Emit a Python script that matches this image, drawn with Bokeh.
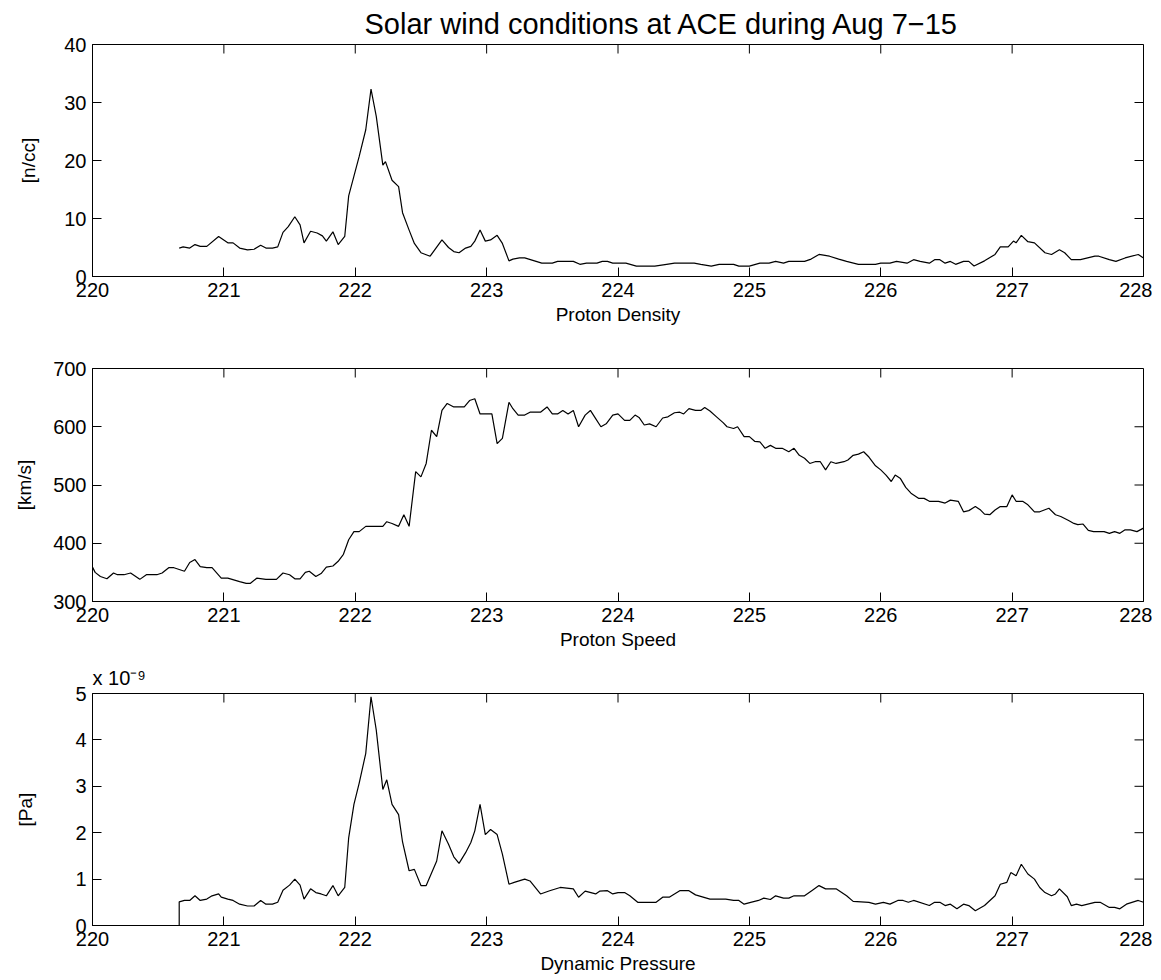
import math
from bokeh.plotting import figure
from bokeh.layouts import column
from bokeh.models import Range1d, FixedTicker
from bokeh.embed import file_html
from bokeh.resources import INLINE

FONT = "Liberation Sans"
TICK_SIZE = "20px"
LABEL_SIZE = "19px"
TICK_LEN = 9

title_text = "Solar wind conditions at ACE during Aug 7\u221215"
pressure_scale_text = "x 10\u207b\u2079"

x_ticks = [220, 221, 222, 223, 224, 225, 226, 227, 228]
density_ticks = [0, 10, 20, 30, 40]
speed_ticks = [300, 400, 500, 600, 700]
pressure_ticks = [0, 1, 2, 3, 4, 5]

# Proton density [n/cc] vs day of year
density_day = [220.66, 220.69, 220.74, 220.78, 220.82, 220.87, 220.96, 221.03, 221.07, 221.12,
               221.18, 221.23, 221.28, 221.32, 221.37, 221.41, 221.45, 221.49, 221.54, 221.58,
               221.61, 221.66, 221.71, 221.75, 221.78, 221.83, 221.87, 221.92, 221.95, 221.99,
               222.03, 222.08, 222.12, 222.16, 222.21, 222.23, 222.28, 222.33, 222.36, 222.41,
               222.45, 222.50, 222.57, 222.66, 222.71, 222.75, 222.79, 222.84, 222.88, 222.91,
               222.95, 222.99, 223.03, 223.08, 223.12, 223.17, 223.20, 223.25, 223.29, 223.42,
               223.50, 223.54, 223.66, 223.71, 223.76, 223.84, 223.88, 223.92, 223.96, 224.00,
               224.06, 224.14, 224.28, 224.37, 224.43, 224.58, 224.63, 224.71, 224.77, 224.88,
               224.92, 225.00, 225.08, 225.15, 225.20, 225.26, 225.30, 225.42, 225.47, 225.53,
               225.61, 225.68, 225.74, 225.83, 225.96, 226.00, 226.07, 226.12, 226.20, 226.25,
               226.30, 226.37, 226.41, 226.45, 226.49, 226.53, 226.57, 226.63, 226.67, 226.71,
               226.79, 226.87, 226.91, 226.97, 227.01, 227.03, 227.07, 227.12, 227.17, 227.25,
               227.30, 227.36, 227.40, 227.45, 227.52, 227.63, 227.66, 227.74, 227.79, 227.86,
               227.96, 228.00]
density_ncc = [4.9, 5.1, 4.9, 5.5, 5.2, 5.2, 6.9, 5.8, 5.8, 4.9,
               4.6, 4.7, 5.4, 4.9, 4.9, 5.1, 7.6, 8.6, 10.3, 8.9,
               5.8, 7.8, 7.5, 7.0, 6.1, 7.7, 5.5, 6.9, 13.9, 17.3,
               20.7, 25.3, 32.3, 27.6, 19.2, 19.8, 16.6, 15.5, 11.0, 8.0,
               5.7, 4.1, 3.5, 6.3, 5.0, 4.3, 4.1, 4.9, 5.2, 6.1,
               8.0, 6.1, 6.3, 7.1, 5.7, 2.7, 3.0, 3.2, 3.2, 2.3,
               2.3, 2.6, 2.6, 2.1, 2.3, 2.3, 2.6, 2.6, 2.3, 2.3,
               2.3, 1.8, 1.8, 2.1, 2.3, 2.3, 2.1, 1.8, 2.1, 2.1,
               1.8, 1.8, 2.3, 2.3, 2.6, 2.3, 2.6, 2.6, 3.0, 3.8,
               3.5, 3.0, 2.6, 2.1, 2.1, 2.3, 2.3, 2.6, 2.3, 2.9,
               2.6, 2.3, 2.9, 2.9, 2.3, 2.6, 2.1, 2.6, 2.6, 1.8,
               2.7, 3.8, 5.1, 5.1, 6.1, 5.8, 7.1, 6.0, 5.8, 4.1,
               3.8, 4.6, 4.1, 2.9, 2.9, 3.5, 3.5, 2.9, 2.6, 3.2,
               3.8, 3.2]

# Proton speed [km/s]
speed_day = [220.00, 220.02, 220.06, 220.11, 220.16, 220.19, 220.24, 220.29, 220.36, 220.41,
             220.49, 220.53, 220.58, 220.62, 220.70, 220.74, 220.78, 220.82, 220.87, 220.91,
             220.98, 221.03, 221.12, 221.17, 221.20, 221.25, 221.32, 221.40, 221.45, 221.50,
             221.54, 221.58, 221.62, 221.65, 221.70, 221.74, 221.78, 221.83, 221.87, 221.91,
             221.95, 221.99, 222.03, 222.08, 222.12, 222.21, 222.24, 222.28, 222.33, 222.37,
             222.41, 222.46, 222.50, 222.54, 222.58, 222.62, 222.66, 222.70, 222.75, 222.83,
             222.87, 222.91, 222.95, 223.04, 223.08, 223.12, 223.17, 223.20, 223.24, 223.29,
             223.33, 223.41, 223.46, 223.50, 223.54, 223.58, 223.62, 223.66, 223.70, 223.75,
             223.79, 223.83, 223.87, 223.91, 223.96, 224.00, 224.05, 224.09, 224.13, 224.16,
             224.20, 224.24, 224.29, 224.34, 224.38, 224.43, 224.47, 224.50, 224.54, 224.59,
             224.63, 224.66, 224.70, 224.75, 224.80, 224.83, 224.88, 224.91, 224.96, 225.00,
             225.04, 225.08, 225.12, 225.16, 225.20, 225.25, 225.30, 225.34, 225.38, 225.42,
             225.46, 225.50, 225.54, 225.58, 225.62, 225.66, 225.72, 225.75, 225.79, 225.83,
             225.87, 225.91, 225.96, 226.00, 226.04, 226.08, 226.11, 226.15, 226.19, 226.23,
             226.29, 226.33, 226.37, 226.44, 226.49, 226.53, 226.59, 226.63, 226.67, 226.72,
             226.76, 226.79, 226.83, 226.87, 226.91, 226.96, 227.00, 227.03, 227.08, 227.12,
             227.17, 227.21, 227.28, 227.33, 227.37, 227.43, 227.47, 227.50, 227.54, 227.58,
             227.62, 227.70, 227.74, 227.78, 227.82, 227.86, 227.90, 227.95, 228.00]
speed_kms = [359, 350, 343, 339, 349, 346, 346, 349, 338, 346,
             346, 349, 358, 358, 352, 367, 372, 360, 358, 358,
             340, 340, 334, 331, 331, 340, 338, 338, 349, 346,
             339, 339, 350, 352, 343, 348, 359, 361, 369, 381,
             406, 420, 420, 429, 429, 429, 437, 434, 429, 449,
             429, 523, 514, 537, 594, 583, 628, 640, 634, 634,
             645, 648, 622, 622, 571, 580, 642, 631, 620, 620,
             625, 625, 634, 622, 622, 628, 622, 628, 600, 620,
             628, 614, 600, 605, 620, 622, 611, 611, 620, 616,
             603, 605, 600, 615, 617, 624, 625, 622, 631, 628,
             628, 633, 627, 617, 607, 600, 597, 600, 583, 583,
             575, 574, 563, 568, 563, 563, 557, 563, 551, 546,
             537, 540, 540, 526, 540, 537, 540, 543, 551, 553,
             557, 548, 533, 526, 517, 506, 517, 511, 496, 486,
             477, 477, 472, 472, 469, 474, 472, 454, 456, 463,
             457, 450, 449, 457, 463, 463, 483, 472, 472, 466,
             454, 454, 460, 449, 446, 439, 434, 432, 433, 422,
             420, 420, 417, 420, 417, 423, 423, 420, 426]

# Dynamic pressure [x 10^-9 Pa]
pressure_day = [220.66, 220.66, 220.70, 220.74, 220.78, 220.82, 220.87, 220.91, 220.96, 220.98,
                221.03, 221.07, 221.12, 221.18, 221.23, 221.28, 221.32, 221.37, 221.41, 221.45,
                221.50, 221.54, 221.58, 221.61, 221.66, 221.70, 221.74, 221.78, 221.83, 221.87,
                221.92, 221.95, 221.99, 222.03, 222.08, 222.12, 222.16, 222.21, 222.24, 222.28,
                222.33, 222.36, 222.41, 222.45, 222.50, 222.54, 222.62, 222.66, 222.71, 222.75,
                222.79, 222.84, 222.88, 222.91, 222.95, 222.99, 223.03, 223.08, 223.12, 223.17,
                223.21, 223.29, 223.33, 223.41, 223.48, 223.56, 223.66, 223.70, 223.75, 223.83,
                223.86, 223.92, 223.96, 224.00, 224.05, 224.09, 224.15, 224.29, 224.34, 224.39,
                224.47, 224.54, 224.59, 224.70, 224.82, 224.88, 224.92, 224.96, 225.01, 225.07,
                225.11, 225.16, 225.20, 225.26, 225.30, 225.34, 225.42, 225.48, 225.53, 225.58,
                225.66, 225.74, 225.79, 225.91, 225.96, 226.02, 226.07, 226.13, 226.17, 226.21,
                226.25, 226.37, 226.41, 226.45, 226.49, 226.53, 226.58, 226.63, 226.67, 226.72,
                226.79, 226.87, 226.91, 226.96, 226.99, 227.03, 227.07, 227.12, 227.17, 227.21,
                227.25, 227.30, 227.33, 227.36, 227.42, 227.45, 227.49, 227.53, 227.63, 227.67,
                227.74, 227.78, 227.82, 227.87, 227.96, 228.00]
pressure_npa = [0.0, 0.51, 0.54, 0.54, 0.64, 0.54, 0.57, 0.64, 0.68, 0.61,
                0.57, 0.54, 0.46, 0.42, 0.42, 0.54, 0.46, 0.46, 0.50, 0.76,
                0.87, 1.00, 0.87, 0.57, 0.79, 0.71, 0.68, 0.64, 0.86, 0.64,
                0.82, 1.89, 2.61, 3.07, 3.71, 4.93, 4.21, 2.93, 3.14, 2.61,
                2.39, 1.80, 1.18, 1.21, 0.86, 0.86, 1.39, 2.04, 1.75, 1.48,
                1.34, 1.57, 1.79, 2.04, 2.61, 1.96, 2.07, 1.96, 1.54, 0.89,
                0.93, 1.00, 0.96, 0.68, 0.75, 0.82, 0.79, 0.61, 0.74, 0.68,
                0.74, 0.75, 0.68, 0.71, 0.71, 0.64, 0.50, 0.50, 0.61, 0.61,
                0.75, 0.75, 0.66, 0.57, 0.57, 0.54, 0.54, 0.46, 0.50, 0.54,
                0.59, 0.56, 0.64, 0.59, 0.59, 0.64, 0.64, 0.76, 0.86, 0.79,
                0.79, 0.64, 0.52, 0.50, 0.46, 0.50, 0.46, 0.54, 0.54, 0.50,
                0.54, 0.43, 0.50, 0.50, 0.43, 0.46, 0.36, 0.46, 0.43, 0.32,
                0.43, 0.64, 0.89, 0.93, 1.14, 1.07, 1.32, 1.11, 1.00, 0.82,
                0.71, 0.64, 0.68, 0.79, 0.62, 0.43, 0.46, 0.43, 0.50, 0.50,
                0.39, 0.39, 0.36, 0.46, 0.54, 0.50]


def style_axis(ax, ticks):
    ax.ticker = FixedTicker(ticks=ticks)
    ax.axis_line_color = "black"
    ax.axis_line_width = 1
    ax.major_tick_line_color = "black"
    ax.major_tick_in = TICK_LEN
    ax.major_tick_out = 0
    ax.minor_tick_line_color = None
    ax.major_label_text_font = FONT
    ax.major_label_text_color = "black"
    ax.major_label_text_font_size = TICK_SIZE
    ax.major_label_standoff = 6
    ax.axis_label_text_font = FONT
    ax.axis_label_text_font_style = "normal"
    ax.axis_label_text_color = "black"
    ax.axis_label_text_font_size = LABEL_SIZE


def make_panel(xs, ys, yr, yticks, ylabel, xlabel, height, b_top, b_bottom, ylab_standoff):
    p = figure(width=1152, height=height, x_range=Range1d(220, 228), y_range=Range1d(*yr),
               output_backend="svg", toolbar_location=None,
               min_border_left=92, min_border_right=9,
               min_border_top=b_top, min_border_bottom=b_bottom)
    p.line(xs, ys, line_color="black", line_width=1.2)
    p.xgrid.visible = False
    p.ygrid.visible = False
    p.outline_line_color = "black"
    p.outline_line_width = 1
    p.background_fill_color = "white"
    p.border_fill_color = "white"

    xa = p.below[0]
    ya = p.left[0]
    style_axis(xa, x_ticks)
    style_axis(ya, yticks)
    xa.axis_label = xlabel
    xa.axis_label_standoff = 4
    ya.axis_label = ylabel
    ya.axis_label_standoff = ylab_standoff

    # mirrored (box) ticks pointing inward from the top and right edges
    p.ray(x=x_ticks, y=[yr[1]] * len(x_ticks), length=TICK_LEN, length_units="screen",
          angle=-math.pi / 2, line_color="black", line_width=1)
    p.ray(x=[x_ticks[-1]] * len(yticks), y=yticks, length=TICK_LEN, length_units="screen",
          angle=math.pi, line_color="black", line_width=1)
    return p


p1 = make_panel(density_day, density_ncc, (0, 40), density_ticks, "[n/cc]", "Proton Density",
                334, 44, 58, 22)
p1.title.text = title_text
p1.title.text_font = FONT
p1.title.text_font_size = "29px"
p1.title.text_font_style = "normal"
p1.title.text_color = "black"
p1.title.align = "left"
p1.title.offset = 272
p1.title.standoff = 10

p2 = make_panel(speed_day, speed_kms, (300, 700), speed_ticks, "[km/s]", "Proton Speed",
                325, 34, 58, 15)

p3 = make_panel(pressure_day, pressure_npa, (0, 5), pressure_ticks, "[Pa]", "Dynamic Pressure",
                321, 33, 55, 36)
p3.title.text = pressure_scale_text
p3.title.text_font = FONT
p3.title.text_font_size = "20px"
p3.title.text_font_style = "normal"
p3.title.text_color = "black"
p3.title.align = "left"
p3.title.offset = 0
p3.title.standoff = 10

layout = column(p1, p2, p3, spacing=0)

with open("out.html", "w") as f:
    f.write(file_html(layout, INLINE))
